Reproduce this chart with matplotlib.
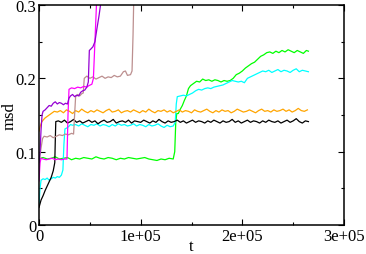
import numpy as np
import matplotlib
matplotlib.use("Agg")
import matplotlib.pyplot as plt
from matplotlib.ticker import MultipleLocator

plt.rcParams['font.family'] = ['Liberation Serif', 'DejaVu Serif']

# t in units of 1e3
t_black = [0, 2, 4, 6, 9, 12, 14, 15.5, 16, 16.5] + list(range(19, 266, 3))
msd_black = [0.024, 0.034, 0.040, 0.047, 0.056, 0.065, 0.074, 0.085, 0.115, 0.141,
             0.142, 0.140, 0.143, 0.139, 0.141, 0.144, 0.140, 0.142, 0.139, 0.141,
             0.143, 0.140, 0.142, 0.138, 0.141, 0.143, 0.140, 0.141, 0.144, 0.139,
             0.141, 0.142, 0.140, 0.143, 0.139, 0.142, 0.141, 0.140, 0.143, 0.141,
             0.139, 0.142, 0.140, 0.144, 0.141, 0.139, 0.142, 0.140, 0.141, 0.143,
             0.140, 0.142, 0.139, 0.141, 0.143, 0.140, 0.142, 0.141, 0.139, 0.142,
             0.140, 0.143, 0.141, 0.139, 0.142, 0.140, 0.141, 0.144, 0.140, 0.142,
             0.139, 0.141, 0.143, 0.140, 0.142, 0.141, 0.139, 0.142, 0.140, 0.143,
             0.141, 0.140, 0.142, 0.139, 0.141, 0.143, 0.140, 0.142, 0.145, 0.141,
             0.139, 0.142, 0.141]

t_orange = [0, 1, 2.5, 4, 6, 9, 12, 15] + list(range(18, 265, 3))
msd_orange = [0.128, 0.134, 0.140, 0.143, 0.146, 0.149, 0.152, 0.155,
              0.154, 0.156, 0.153, 0.157, 0.155, 0.152, 0.156, 0.154, 0.158, 0.155,
              0.153, 0.156, 0.154, 0.157, 0.155, 0.153, 0.156, 0.158, 0.154, 0.155,
              0.157, 0.153, 0.155, 0.156, 0.154, 0.157, 0.155, 0.153, 0.156, 0.154,
              0.158, 0.155, 0.153, 0.156, 0.155, 0.157, 0.154, 0.156, 0.153, 0.155,
              0.157, 0.154, 0.156, 0.155, 0.153, 0.157, 0.155, 0.154, 0.156, 0.158,
              0.155, 0.153, 0.156, 0.154, 0.157, 0.155, 0.156, 0.153, 0.155, 0.158,
              0.156, 0.154, 0.155, 0.157, 0.155, 0.153, 0.156, 0.158, 0.155, 0.156,
              0.154, 0.157, 0.155, 0.156, 0.158, 0.155, 0.157, 0.154, 0.156, 0.159,
              0.156, 0.155, 0.157]

t_cyan = ([0, 1, 2, 4, 6, 8, 10, 12, 14, 16, 18, 20, 22, 23.5, 24.5, 25.5, 27, 29, 31, 33]
          + list(range(36, 133, 3)) + [134, 135, 136]
          + list(range(139, 206, 3)) + list(range(208, 266, 3)))
msd_cyan = [0.028, 0.050, 0.061, 0.063, 0.062, 0.064, 0.061, 0.063, 0.065, 0.064,
            0.066, 0.065, 0.068, 0.075, 0.110, 0.131, 0.132, 0.134, 0.137, 0.136,
            0.137, 0.135, 0.138, 0.136, 0.134, 0.137, 0.136, 0.138, 0.135, 0.137,
            0.136, 0.134, 0.137, 0.135, 0.138, 0.136, 0.137, 0.135, 0.136, 0.138,
            0.135, 0.137, 0.136, 0.134, 0.137, 0.135, 0.136, 0.138, 0.135, 0.133,
            0.136, 0.134, 0.135,
            0.140, 0.165, 0.175,
            0.176, 0.177, 0.176, 0.178, 0.180, 0.183, 0.185, 0.184, 0.186, 0.187,
            0.186, 0.188, 0.189, 0.190, 0.191, 0.193, 0.195, 0.197, 0.196, 0.195,
            0.196, 0.194, 0.200,
            0.202, 0.204, 0.206, 0.208, 0.210, 0.209, 0.211, 0.208, 0.210, 0.212,
            0.209, 0.211, 0.210, 0.208, 0.211, 0.213, 0.209, 0.211, 0.210, 0.209]

t_green = ([0, 1.5] + list(range(4, 133, 4))
           + [133.5, 134.5, 135.5, 137, 139, 141, 143, 145, 147, 149]
           + list(range(152, 264, 3)) + [265])
msd_green = [0.086, 0.091,
             0.092, 0.090, 0.091, 0.093, 0.090, 0.091, 0.092, 0.089, 0.091, 0.090,
             0.092, 0.091, 0.090, 0.093, 0.091, 0.090, 0.092, 0.091, 0.089, 0.091,
             0.090, 0.092, 0.091, 0.090, 0.091, 0.092, 0.090, 0.089, 0.088, 0.090,
             0.089, 0.091, 0.090,
             0.100, 0.140, 0.152, 0.152, 0.158, 0.163, 0.170, 0.176, 0.186, 0.190,
             0.193, 0.196, 0.195, 0.199, 0.197, 0.198, 0.196, 0.198, 0.197, 0.195,
             0.197, 0.196, 0.197, 0.200, 0.205, 0.207, 0.210, 0.214, 0.217, 0.220,
             0.222, 0.226, 0.230, 0.232, 0.235, 0.236, 0.234, 0.237, 0.235, 0.238,
             0.236, 0.239, 0.237, 0.235, 0.238, 0.236, 0.234, 0.238, 0.237]

t_magenta = [0, 1, 2, 4, 7, 10, 13, 16, 19, 22, 25, 27.5, 28.5, 29.5,
             32, 35, 38, 41, 44, 47, 49, 52, 53.5, 55, 56.5, 57.5]
msd_magenta = [0.060, 0.085, 0.091, 0.090, 0.089, 0.090, 0.091, 0.089, 0.090, 0.089,
               0.090, 0.090, 0.150, 0.185, 0.187, 0.186, 0.188, 0.187, 0.189, 0.188,
               0.190, 0.192, 0.200, 0.250, 0.300, 0.330]

t_violet = [0, 1, 2, 3, 4, 6, 8, 10, 12, 14, 16, 18, 20, 22, 24, 26, 28, 29.5,
            31, 33, 35, 37, 39, 41, 43, 45, 47, 48.5, 49.5, 51, 53, 55, 57, 59,
            60.5, 61.5]
msd_violet = [0.085, 0.100, 0.130, 0.150, 0.155, 0.157, 0.160, 0.163, 0.162, 0.166,
              0.168, 0.165, 0.167, 0.166, 0.164, 0.166, 0.165, 0.173, 0.176, 0.178,
              0.175, 0.177, 0.176, 0.181, 0.183, 0.184, 0.188, 0.195, 0.238, 0.240,
              0.243, 0.250, 0.268, 0.285, 0.300, 0.330]

t_brown = [0, 1, 2, 3.5, 5, 8, 11, 14, 17, 20, 23, 26, 29, 32, 34, 35, 36, 38, 40,
           42, 43.5, 44.5, 47, 50, 53, 56, 59, 62, 65, 68, 71, 74, 77, 80, 83, 85,
           87, 90, 91.5, 92.5, 93.5]
msd_brown = [0.070, 0.095, 0.105, 0.118, 0.121, 0.120, 0.122, 0.119, 0.121, 0.123,
             0.122, 0.124, 0.123, 0.125, 0.124, 0.150, 0.175, 0.178, 0.176, 0.179,
             0.180, 0.200, 0.203, 0.200, 0.202, 0.199, 0.201, 0.203, 0.200, 0.202,
             0.201, 0.204, 0.202, 0.203, 0.209, 0.210, 0.204, 0.205, 0.210, 0.260,
             0.330]

series = [
    (t_green, msd_green, '#00ff00'),
    (t_cyan, msd_cyan, '#00ffff'),
    (t_orange, msd_orange, '#ffa500'),
    (t_black, msd_black, 'black'),
    (t_brown, msd_brown, '#bc8f8f'),
    (t_magenta, msd_magenta, '#ff00ff'),
    (t_violet, msd_violet, '#9400d3'),
]

fig = plt.figure(figsize=(3.66, 2.55), dpi=100)
ax = fig.add_axes([0.1066, 0.1137, 0.8333, 0.8628])

for t, m, c in series:
    ax.plot(np.array(t) * 1e3, m, color=c, lw=0.9)

ax.set_xlim(0, 3e5)
ax.set_ylim(0, 0.3)
ax.set_xticks([0, 1e5, 2e5, 3e5], labels=['0', '1e+05', '2e+05', '3e+05'])
ax.set_yticks([0, 0.1, 0.2, 0.3], labels=['0', '0.1', '0.2', '0.3'])
ax.xaxis.set_minor_locator(MultipleLocator(5e4))
ax.yaxis.set_minor_locator(MultipleLocator(0.05))
ax.tick_params(which='both', direction='in', top=True, right=True, labelsize=12)
ax.tick_params(which='major', length=4, width=0.8, pad=2)
ax.tick_params(which='minor', length=2.2, width=0.8)
for s in ax.spines.values():
    s.set_linewidth(1.1)

# axis titles placed by hand, the tick labels leave little room
fig.text(191 / 366, 1 - 247 / 255, 't', fontsize=12, ha='center', va='center')
fig.text(10 / 366, 1 - 116 / 255, 'msd', fontsize=12, ha='center', va='center',
         rotation=90)

fig.savefig('out.png', dpi=100)
